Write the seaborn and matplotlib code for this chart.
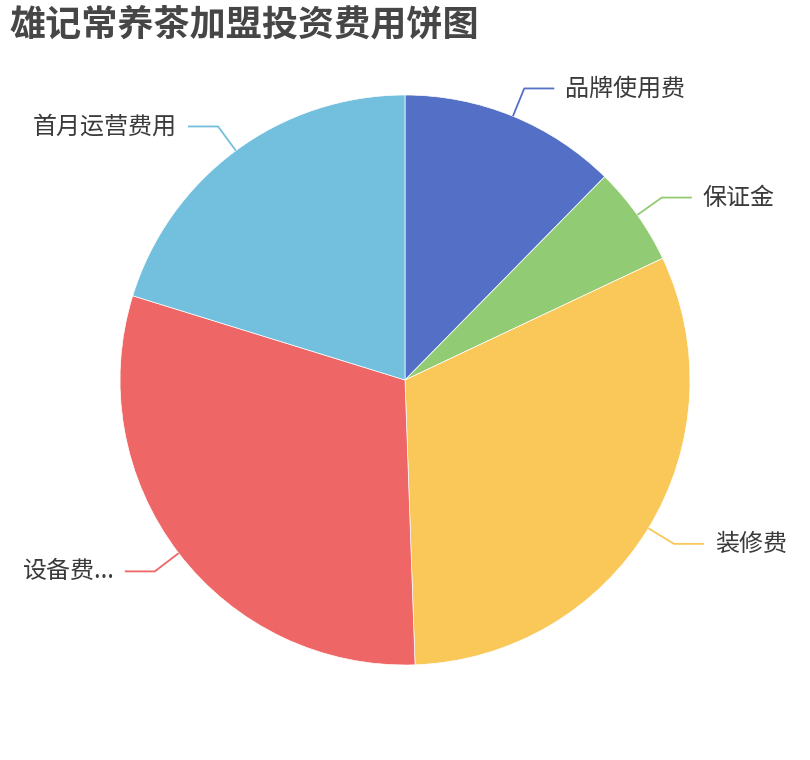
import numpy as np
import matplotlib
matplotlib.use("Agg")
import matplotlib.pyplot as plt
import seaborn as sns

# 数据（单位：万元，按饼图角度估读）
categories = ["品牌使用费", "保证金", "装修费", "设备费...", "首月运营费用"]
values = [11, 5, 28, 27, 18]
colors = ["#5470c6", "#91cc75", "#fac858", "#ee6666", "#73c0de"]
title = "雄记常养茶加盟投资费用饼图"

sns.set_theme(style="white")
plt.rcParams["font.family"] = ["Noto Sans CJK SC", "DejaVu Sans"]

W, H = 810, 760
fig = plt.figure(figsize=(W / 100, H / 100), dpi=100)
R = 285  # 半径（像素）
cx, cy = 405, 380
ax = fig.add_axes([(cx - R) / W, (H - cy - R) / H, 2 * R / W, 2 * R / H])

palette = sns.color_palette(colors)
wedges, _ = ax.pie(values, colors=palette, startangle=90, counterclock=False,
                   radius=1, wedgeprops={"edgecolor": "white", "linewidth": 0.5})
ax.set_xlim(-1, 1)
ax.set_ylim(-1, 1)
ax.set_aspect("equal")
ax.axis("off")

seg1 = 315 / R
seg2 = 30 / R
gap = 11 / R
for w, label, c in zip(wedges, categories, palette):
    mid = np.deg2rad((w.theta1 + w.theta2) / 2)
    x0, y0 = np.cos(mid), np.sin(mid)
    x1, y1 = seg1 * x0, seg1 * y0
    side = 1 if x1 >= 0 else -1
    x2 = x1 + side * seg2
    ax.plot([x0, x1, x2], [y0, y1, y1], color=c, lw=1.3, clip_on=False,
            solid_capstyle="butt")
    ax.text(x2 + side * gap, y1, label, ha="left" if side > 0 else "right",
            va="center", fontsize=17.3, color="#3a3a3a", clip_on=False)

fig.text(10 / W, 1 - 25 / H, title, ha="left", va="center",
         fontsize=26, fontweight="bold", color="#464646")

plt.savefig("out.png", dpi=100)
plt.close()
